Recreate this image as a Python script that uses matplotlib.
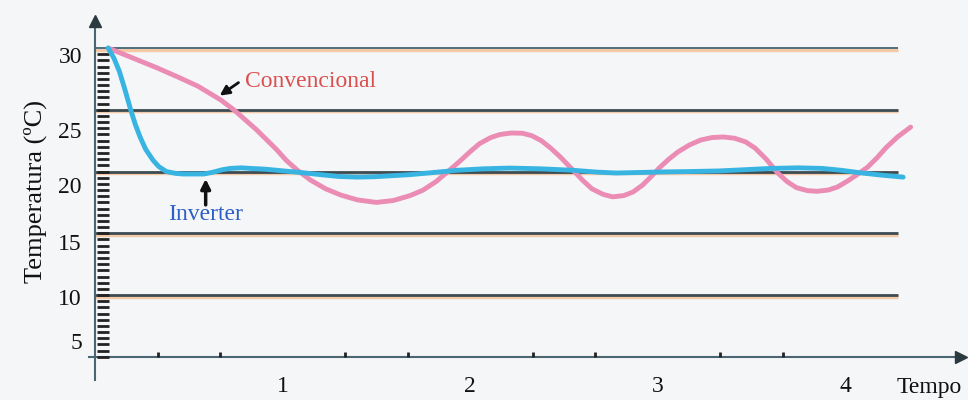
import numpy as np
import matplotlib
matplotlib.use("Agg")
import matplotlib.pyplot as plt

# curve samples (tempo, temperatura)
inv_t = [0.07, 0.10, 0.13, 0.16, 0.19, 0.215, 0.24, 0.27, 0.31, 0.34, 0.38, 0.43,
         0.47, 0.53, 0.58, 0.63, 0.68, 0.72, 0.78, 0.83, 0.90, 0.97, 1.04, 1.11,
         1.20, 1.30, 1.40, 1.49, 1.57, 1.68, 1.79, 1.93, 2.07, 2.21, 2.38, 2.55,
         2.68, 2.78, 2.90, 3.00, 3.17, 3.33, 3.47, 3.60, 3.75, 3.88, 3.98, 4.08,
         4.20, 4.31]
inv_temp = [30.0, 29.2, 28.1, 26.6, 25.0, 23.8, 22.8, 21.8, 20.9, 20.4, 20.0, 19.85,
            19.8, 19.8, 19.8, 19.95, 20.15, 20.25, 20.3, 20.25, 20.2, 20.1, 20.0, 19.9,
            19.75, 19.6, 19.55, 19.58, 19.65, 19.75, 19.9, 20.1, 20.22, 20.28, 20.22, 20.1,
            19.95, 19.88, 19.92, 19.96, 20.0, 20.05, 20.15, 20.25, 20.3, 20.25, 20.1, 19.9,
            19.7, 19.55]

conv_t = [0.07, 0.20, 0.33, 0.45, 0.55, 0.67, 0.74, 0.80, 0.86, 0.92, 0.97, 1.02,
          1.08, 1.15, 1.23, 1.31, 1.40, 1.50, 1.59, 1.68, 1.75, 1.82, 1.89, 1.95,
          2.00, 2.05, 2.11, 2.16, 2.22, 2.28, 2.33, 2.38, 2.43, 2.48, 2.55, 2.60,
          2.65, 2.71, 2.76, 2.82, 2.87, 2.92, 2.96, 3.01, 3.06, 3.11, 3.17, 3.23,
          3.29, 3.35, 3.41, 3.47, 3.52, 3.58, 3.64, 3.69, 3.74, 3.80, 3.85, 3.91,
          3.96, 4.01, 4.06, 4.12, 4.17, 4.22, 4.28, 4.35]
conv_temp = [30.0, 29.2, 28.4, 27.6, 26.9, 25.8, 25.0, 24.2, 23.4, 22.5, 21.75, 20.9,
             20.1, 19.3, 18.6, 18.1, 17.7, 17.5, 17.65, 18.05, 18.5, 19.2, 20.1, 20.9,
             21.6, 22.25, 22.75, 23.0, 23.12, 23.1, 22.9, 22.5, 21.9, 21.2, 20.1, 19.3,
             18.6, 18.15, 17.95, 18.05, 18.35, 18.9, 19.5, 20.3, 21.0, 21.6, 22.15, 22.55,
             22.75, 22.8, 22.7, 22.4, 21.9, 21.0, 19.9, 19.2, 18.7, 18.45, 18.4, 18.5,
             18.75, 19.2, 19.7, 20.35, 21.1, 21.95, 22.8, 23.6]

grid_vals = [30, 25, 20, 15, 10]
ylabels = ["30", "25", "20", "15", "10", "5"]
ylabel_pos = [29.2, 23.2, 18.7, 14.1, 9.6, 6.1]
xlabels = ["1", "2", "3", "4"]
xlabel_pos = [1, 2, 3, 4]

serif = "Liberation Serif"
bg = "#f5f6f8"
grid_col = "#3c4c52"

fig = plt.figure(figsize=(9.68, 4), dpi=100, facecolor=bg)
ax = fig.add_axes([0, 0, 1, 1])
ax.set_xlim(-0.507, 4.656)
ax.set_ylim(1.50, 33.89)
ax.axis("off")

# horizontal guide lines with a faint orange shadow
for g in grid_vals:
    ax.hlines(g - 0.12, 0, 4.28, color="#f3c9a8", lw=2.5, zorder=1)
    ax.hlines(g, 0, 4.28, color=grid_col if g != 30 else "#4f6f7c",
              lw=2.0 if g != 30 else 1.4, zorder=2)

# axes with arrows
ax.plot([0, 0], [3.15, 32.0], color="#4a6670", lw=1.5, zorder=3)
ax.plot([0], [32.2], marker="^", ms=8, color="#2a3a40", zorder=3, clip_on=False)
ax.plot([-0.03, 4.6], [5, 5], color="#4a6670", lw=1.5, zorder=3)
ax.plot([4.62], [5], marker=">", ms=8, color="#2a3a40", zorder=3, clip_on=False)

# dense dashes along the vertical axis
dash_y = np.arange(5.0, 30.0, 0.5)
ax.hlines(dash_y, 0.01, 0.075, color="#222", lw=2.0, zorder=3)

# small ticks on the time axis at thirds
third = [k / 3 for k in range(1, 12) if k % 3 != 0]
ax.vlines(third, 5, 5.4, color="#222", lw=2.0, zorder=3)

# curves
ax.plot(conv_t, conv_temp, color="#ea8cb4", lw=3.5, solid_capstyle="round",
        solid_joinstyle="round", zorder=4)
ax.plot(inv_t, inv_temp, color="#38b4e2", lw=3.5, solid_capstyle="round",
        solid_joinstyle="round", zorder=5)

# labels
for lab, y in zip(ylabels, ylabel_pos):
    ax.text(-0.07, y, lab, ha="right", va="center", fontsize=17,
            family=serif, color="#111")
for lab, x in zip(xlabels, xlabel_pos):
    ax.text(x, 2.6, lab, ha="center", va="center", fontsize=17,
            family=serif, color="#111")
ax.text(4.45, 2.55, "Tempo", ha="center", va="center", fontsize=17,
        family=serif, color="#111")
ax.text(-0.32, 18.4, "Temperatura (ºC)", rotation=90, ha="center", va="center",
        fontsize=19, family=serif, color="#111")

# annotations
ax.text(0.80, 27.3, "Convencional", fontsize=17, family=serif, color="#d9504f",
        va="center", ha="left")
ax.annotate("", xy=(0.665, 26.15), xytext=(0.765, 27.2),
            arrowprops=dict(arrowstyle="-|>", color="#111", lw=2, mutation_scale=14,
                            shrinkA=0, shrinkB=0))
ax.text(0.59, 16.5, "Inverter", fontsize=17, family=serif, color="#2d5fc6",
        va="center", ha="center")
ax.annotate("", xy=(0.59, 19.4), xytext=(0.59, 17.3),
            arrowprops=dict(arrowstyle="-|>", color="#111", lw=2.5, mutation_scale=14,
                            shrinkA=0, shrinkB=0))

fig.savefig("out.png", dpi=100, facecolor=bg)
